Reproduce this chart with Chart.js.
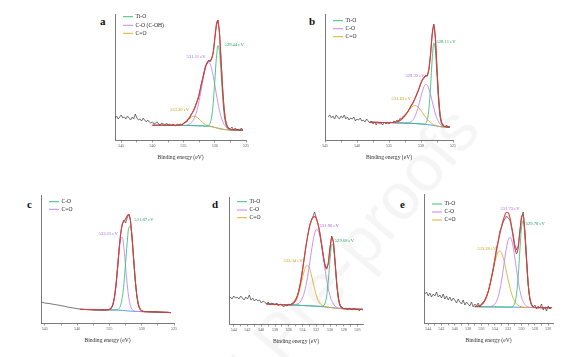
<!DOCTYPE html>
<html><head><meta charset="utf-8">
<script src="https://cdn.jsdelivr.net/npm/chart.js@4.4.0/dist/chart.umd.min.js"></script>
<style>
html,body{margin:0;padding:0;background:#fff;}
body{width:576px;height:357px;position:relative;overflow:hidden;}
canvas{position:absolute;}
.lt{position:absolute;font:bold 11px "Liberation Serif",serif;color:#111;line-height:11px;}
#wm{position:absolute;left:0;top:-33px;height:66px;line-height:66px;white-space:nowrap;font:66px "Liberation Sans",sans-serif;color:rgba(0,0,0,0.04);transform-origin:0 50%;transform:translate(112px,529px) rotate(-50deg);pointer-events:none;}
</style></head><body>
<div class="lt" style="left:100px;top:16px">a</div>
<div class="lt" style="left:309px;top:16px">b</div>
<div class="lt" style="left:27px;top:198.5px">c</div>
<div class="lt" style="left:212px;top:198.5px">d</div>
<div class="lt" style="left:400px;top:198.5px">e</div>
<script>
// ---------- shared ----------
const xTitle = 'Binding energy (eV)';
const ticks5 = [545, 540, 535, 530, 525];
const ticks5Minor = [542.5, 537.5, 532.5, 527.5];
const ticks2 = [544, 542, 540, 538, 536, 534, 532, 530, 528, 526];
const ticks2Minor = [543, 541, 539, 537, 535, 533, 531, 529, 527];

// ---------- panel a ----------
const aRawE = [546,545.75,545.5,545.25,545,544.75,544.5,544.25,544,543.75,543.5,543.25,543,542.75,542.5,542.25,542,541.75,541.5,541.25,541,540.75,540.5,540.25,540,539.75,539.5,539.25,539,538.75,538.5,538.25,538,537.75,537.5,537.25,537,536.75,536.5,536.25,536,535.75,535.5,535.25,535,534.75,534.5,534.25,534,533.75,533.5,533.25,533,532.75,532.5,532.25,532,531.75,531.5,531.25,531,530.75,530.5,530.25,530,529.75,529.5,529.25,529,528.75,528.5,528.25,528,527.75,527.5,527.25,527,526.75,526.5,526.25,526,525.75,525.5];
const aRaw = [22,24,21,23,25,22,23,21,24,22,20,23,21,26,22,20,21,19,22,20,18,20,18,17,18,16,17,18,16,15,17,16,15,17,15,16,14,16,15,14,16,15,16,15,17,18,18,21,22,26,28,31,36,40,45,54,60,66,74,76,80,78,82,87,102,114,120,107,80,52,31,19,14,12,11,13,10,12,10,11,9,12,10];
const aFitE = [540,539,538,537,536.5,536,535.5,535,534.5,534,533.5,533.25,533,532.75,532.5,532.25,532,531.75,531.5,531.25,531,530.75,530.5,530.25,530,529.75,529.5,529.25,529,528.75,528.5,528.25,528,527.5,527,526.5,526,525.5];
const aBg = [14.8,14.8,14.7,14.7,14.6,14.6,14.5,14.5,14.5,14.5,14.4,14.4,14.3,14.3,14.2,14.2,14.2,14.0,13.9,13.9,13.8,13.6,13.3,13.0,12.6,12.2,11.8,11.4,11.0,10.8,10.5,10.4,10.2,10.1,10.0,10.0,9.9,9.8];
const aTiO = [14.8,14.8,14.7,14.7,14.6,14.6,14.5,14.5,14.5,14.5,14.4,14.4,14.3,14.3,14.2,14.2,14.2,14.0,13.9,14.1,14.6,16.8,23.3,37.2,58.9,82.0,94.4,88.3,67.2,43.1,25.1,15.6,11.7,10.1,10.0,10.0,9.9,9.8];
const aCO = [14.8,14.8,14.7,14.7,14.6,14.6,14.5,14.6,14.9,16.1,19.3,22.5,26.7,32.5,39.6,47.9,56.6,64.8,71.7,76.3,77.8,76.0,71.1,63.8,55.0,45.9,37.2,29.6,23.4,18.9,15.4,13.3,11.8,10.5,10.1,10.0,9.9,9.8];
const aCdO = [14.8,14.8,14.7,14.7,14.6,14.75,15.1,16.3,18.7,21.7,23.7,23.9,23.3,22.3,20.8,19.3,17.8,16.4,15.4,14.8,14.3,13.8,13.4,13.0,12.6,12.2,11.8,11.4,11.0,10.8,10.5,10.4,10.2,10.1,10.0,10.0,9.9,9.8];
const aEnv = [14.8,14.8,14.7,14.7,14.6,14.75,15.1,16.4,19.1,23.3,28.6,32.0,35.7,40.5,46.2,53.0,60.2,67.2,73.2,77.2,79.1,79.4,81.2,88.0,101.3,115.7,119.8,106.5,79.6,51.2,30.0,18.5,13.3,10.5,10.1,10.0,9.9,9.8];

// ---------- panel b ----------
const bRawE = [544.5,544.25,544,543.75,543.5,543.25,543,542.75,542.5,542.25,542,541.75,541.5,541.25,541,540.75,540.5,540.25,540,539.75,539.5,539.25,539,538.75,538.5,538.25,538,537.75,537.5,537.25,537,536.75,536.5,536.25,536,535.75,535.5,535.25,535,534.75,534.5,534.25,534,533.75,533.5,533.25,533,532.75,532.5,532.25,532,531.75,531.5,531.25,531,530.75,530.5,530.25,530,529.75,529.5,529.25,529,528.75,528.5,528.25,528,527.75,527.5,527.25,527,526.75,526.5,526.25,526,525.75,525.5];
const bRaw = [23,25,22,24,21,25,23,21,24,22,25,21,23,20,22,21,23,19,21,20,22,19,20,18,21,19,17,19,16,18,15,18,16,17,15,18,16,17,16,18,17,19,18,20,19,22,21,24,25,27,29,32,35,37,41,44,48,52,57,60,62,65,64,72,86,105,116,102,70,43,24,17,15,13,15,12,14];
const bFitE = [538,537,536,535,534.5,534,533.5,533,532.5,532,531.5,531,530.5,530,529.75,529.5,529.25,529,528.75,528.5,528.25,528,527.75,527.5,527.25,527,526.75,526.5,526,525.5];
const bBg = [17.8,17.6,17.5,17.4,17.3,17.2,17.1,17.0,16.9,16.8,16.7,16.5,16.3,16.0,15.9,15.7,15.6,15.5,15.2,15.0,14.8,14.5,14.2,13.8,13.6,13.3,13.2,13.1,13.0,12.8];
const bTiO = [17.8,17.6,17.5,17.4,17.3,17.2,17.1,17.0,16.9,16.8,16.7,16.5,16.3,16.0,15.9,15.9,16.8,20.7,31.8,53.8,81.0,97.0,89.3,63.6,37.8,21.9,15.4,13.5,13.0,12.8];
const bCO = [17.8,17.6,17.5,17.4,17.3,17.2,17.1,17.0,17.0,17.3,18.6,22.7,31.5,43.7,49.5,53.7,55.6,54.6,50.8,45.2,38.6,32.0,26.2,21.4,18.1,15.8,14.5,13.7,13.1,12.8];
const bCdO = [17.8,17.6,17.5,17.45,17.5,17.8,18.7,20.8,24.2,28.5,32.5,34.4,33.3,29.5,27.2,24.7,22.5,20.5,18.7,17.3,16.3,15.4,14.7,14.1,13.75,13.4,13.2,13.1,13.0,12.8];
const bEnv = [17.8,17.6,17.5,17.5,17.5,17.8,18.7,20.8,24.3,29.0,34.4,40.6,48.5,57.2,60.8,62.9,63.7,64.8,70.9,86.3,106.3,115.4,101.8,71.5,42.5,24.4,16.7,14.1,13.1,12.8];

// ---------- panel c ----------
const cRawE = [545.5,545,544.5,544,543.5,543,542.5,542,541.5,541,540.5,540,539.5,539,538.5,538,537.5,537,536.5,536,535.75,535.5,535.25,535,534.75,534.5,534.25,534,533.75,533.5,533.25,533,532.75,532.5,532.25,532,531.75,531.5,531.25,531,530.75,530.5,530.25,530,529.75,529.5,529,528.5,528,527.5,527,526.5,526,525.5];
const cRaw = [20.8,20.0,19.6,19.1,18.5,18.0,17.3,16.8,16.0,15.5,14.9,14.3,13.9,13.6,13.3,13.2,13.0,12.8,12.9,12.7,13.2,13.3,13.4,13.9,15,18,25,37,55,74,90,99,103,100,105,109,103,86,64,43,27,18,14,12.3,11.8,11.5,11.3,11.2,11.0,10.9,10.8,10.6,10.5,10.3];
const cFitE = [539.5,538.5,537.5,536.5,536,535.75,535.5,535.25,535,534.75,534.5,534.25,534,533.75,533.5,533.25,533,532.75,532.5,532.25,532,531.75,531.5,531.25,531,530.75,530.5,530.25,530,529.75,529.5,529,528,527,526,525.5];
const cBg = [13.6,13.5,13.4,13.2,13.2,13.1,13.1,13.1,13.1,13.1,13.05,13.0,13.0,12.9,12.8,12.7,12.6,12.5,12.3,12.2,12.0,11.9,11.8,11.7,11.6,11.55,11.5,11.45,11.4,11.35,11.3,11.2,11.1,10.8,10.6,10.4];
const cCdO = [13.6,13.5,13.4,13.2,13.2,13.1,13.1,13.2,13.55,14.7,17.65,24.4,36.5,53.6,71.8,84.4,85.6,74.7,56.7,38.8,25.3,17.5,13.8,12.3,11.7,11.55,11.5,11.45,11.4,11.35,11.3,11.2,11.1,10.8,10.6,10.4];
const cCO = [13.6,13.5,13.4,13.2,13.2,13.1,13.1,13.1,13.1,13.1,13.05,13.0,13.1,13.4,14.6,18.1,25.8,39.8,59.6,80.7,95.3,96.7,84.1,63.3,42.6,27.0,18.0,13.75,12.1,11.55,11.3,11.2,11.1,10.8,10.6,10.4];
const cEnv = [13.6,13.5,13.4,13.2,13.2,13.1,13.1,13.2,13.55,14.7,17.7,24.4,36.6,54.1,73.6,89.8,98.8,102.0,104.0,107.3,108.6,102.3,86.1,63.9,42.7,27.0,18.0,13.75,12.1,11.55,11.3,11.2,11.1,10.8,10.6,10.4];

// ---------- panel d ----------
const dRawE = [544.5,544.25,544,543.75,543.5,543.25,543,542.75,542.5,542.25,542,541.75,541.5,541.25,541,540.75,540.5,540.25,540,539.75,539.5,539.25,539,538.75,538.5,538.25,538,537.75,537.5,537.25,537,536.75,536.5,536.25,536,535.75,535.5,535.25,535,534.75,534.5,534.25,534,533.75,533.5,533.25,533,532.75,532.5,532.25,532,531.75,531.5,531.25,531,530.75,530.5,530.25,530,529.75,529.5,529.25,529,528.75,528.5,528.25,528,527.75,527.5,527.25,527,526.75,526.5,526.25,526,525.75,525.5,525.25];
const dRaw = [27,25,28,26,27,25,28,26,24,27,25,29,24,26,23,25,23,24,21,23,22,20,22,19,21,20,19,21,18,20,19,17,19,18,20,19,21,22,25,28,35,43,54,66,78,88,97,103,107,112,106,100,92,81,69,60,56,60,76,88,82,60,39,25,18,17,15,16,14,16,15,14,16,14,15,13,15,14];
const dFitE = [539.25,538.5,537.5,536.5,536,535.75,535.5,535.25,535,534.75,534.5,534.25,534,533.75,533.5,533.25,533,532.75,532.5,532.25,532,531.75,531.5,531.25,531,530.75,530.5,530.25,530,529.75,529.5,529.25,529,528.75,528.5,528.25,528,527.75,527.5,527,526.5,526,525.5,525.25];
const dBg = [20.0,19.8,19.5,19.2,19.1,19.05,19.0,18.95,18.9,18.8,18.7,18.6,18.5,18.4,18.3,18.25,18.2,18.1,18.0,17.9,17.8,17.7,17.55,17.4,17.3,17.1,16.9,16.7,16.5,16.3,16.1,15.9,15.7,15.6,15.5,15.4,15.3,15.25,15.2,15.0,14.9,14.8,14.7,14.7];
const dTiO = [20.0,19.8,19.5,19.2,19.1,19.05,19.0,18.95,18.9,18.8,18.7,18.6,18.5,18.4,18.3,18.25,18.2,18.1,18.0,17.9,17.8,17.7,17.55,17.5,18.0,20.2,27.4,43.0,64.3,79.7,77.5,59.4,38.2,24.1,17.8,15.9,15.4,15.25,15.2,15.0,14.9,14.8,14.7,14.7];
const dCO = [20.0,19.8,19.5,19.2,19.1,19.1,19.1,19.15,19.4,19.9,20.9,22.9,26.1,31.2,38.4,47.85,59.0,70.8,81.8,90.1,94.4,93.8,88.35,79.1,67.7,55.6,44.5,35.2,28.1,23.2,19.9,17.8,16.6,16.0,15.7,15.5,15.3,15.25,15.2,15.0,14.9,14.8,14.7,14.7];
const dCdO = [20.0,19.8,19.5,19.2,19.25,19.45,20.0,21.15,23.3,26.9,32.1,38.9,46.3,53.1,57.6,58.65,56.0,50.2,42.8,35.2,28.9,24.1,20.95,19.0,18.0,17.4,17.0,16.7,16.5,16.3,16.1,15.9,15.7,15.6,15.5,15.4,15.3,15.25,15.2,15.0,14.9,14.8,14.7,14.7];
const dEnv = [20.0,19.8,19.5,19.2,19.25,19.5,20.1,21.35,23.8,28.0,34.3,43.2,53.9,65.9,77.7,88.25,96.8,102.9,106.6,107.4,105.5,100.2,91.75,80.8,69.1,58.9,55.1,61.5,75.9,86.6,81.3,61.3,39.1,24.5,18.0,16.0,15.4,15.25,15.2,15.0,14.9,14.8,14.7,14.7];

// ---------- panel e ----------
const eRawE = [544.5,544.25,544,543.75,543.5,543.25,543,542.75,542.5,542.25,542,541.75,541.5,541.25,541,540.75,540.5,540.25,540,539.75,539.5,539.25,539,538.75,538.5,538.25,538,537.75,537.5,537.25,537,536.75,536.5,536.25,536,535.75,535.5,535.25,535,534.75,534.5,534.25,534,533.75,533.5,533.25,533,532.75,532.5,532.25,532,531.75,531.5,531.25,531,530.75,530.5,530.25,530,529.75,529.5,529.25,529,528.75,528.5,528.25,528,527.75,527.5,527.25,527,526.75,526.5,526.25,526,525.75,525.5];
const eRaw = [29,31,27,30,26,29,27,31,26,28,25,29,24,27,23,26,22,25,23,20,24,21,19,23,18,21,19,17,21,16,19,17,20,16,19,21,23,27,31,38,46,53,64,75,82,92,96,101,104,107,105,103,96,88,78,73,77,92,105,111,92,66,38,24,19,16,18,14,17,15,19,13,16,12,17,14,16];
const eFitE = [537,536.5,536,535.75,535.5,535.25,535,534.75,534.5,534.25,534,533.75,533.5,533.25,533,532.75,532.5,532.25,532,531.75,531.5,531.25,531,530.75,530.5,530.25,530,529.75,529.5,529.25,529,528.75,528.5,528.25,528,527.5,527,526.5,526,525.5];
const eBg = [16.3,16.3,16.25,16.25,16.2,16.2,16.2,16.15,16.1,16.1,16.1,16.05,16.05,16.0,16.0,15.95,15.95,15.9,15.9,15.85,15.85,15.8,15.8,15.75,15.75,15.7,15.65,15.6,15.55,15.5,15.5,15.5,15.5,15.45,15.45,15.4,15.4,15.35,15.35,15.3];
const eTiO = [16.3,16.3,16.25,16.25,16.2,16.2,16.2,16.15,16.1,16.1,16.1,16.05,16.05,16.0,16.0,15.95,15.95,15.9,15.9,15.85,16.05,16.9,20.1,28.85,46.85,72.6,95.65,102.2,87.55,61.6,38.2,24.1,18.0,16.05,15.55,15.4,15.4,15.35,15.35,15.3];
const eCO = [16.3,16.3,16.25,16.25,16.2,16.2,16.3,16.4,16.7,17.5,19.0,21.75,26.25,33.0,42.2,53.35,65.15,75.8,83.2,85.85,83.15,75.7,65.0,53.15,41.95,32.7,25.85,21.3,18.45,16.9,16.1,15.75,15.6,15.45,15.45,15.4,15.4,15.35,15.35,15.3];
const eCdO = [16.4,16.9,18.35,19.95,22.5,26.2,31.3,37.65,45.0,53.0,60.6,66.85,70.85,72.0,70.1,65.35,58.65,50.9,43.0,35.65,29.55,24.8,21.4,19.05,17.55,16.7,16.15,15.8,15.65,15.5,15.5,15.5,15.5,15.45,15.45,15.4,15.4,15.35,15.35,15.3];
const eEnv = [16.4,16.9,18.4,19.95,22.5,26.2,31.4,37.9,45.6,54.4,63.5,72.55,81.05,89.0,96.3,102.75,107.85,110.8,110.3,105.65,97.05,85.8,74.9,69.55,74.85,90.6,106.35,108.1,90.55,63.0,38.8,24.35,18.1,16.05,15.55,15.4,15.4,15.35,15.35,15.3];

// ---------- styles ----------
const COL = {raw:'#3a3a3a', env:'#e23a3a', green:'#3ec07e', purple:'#c387f2', orange:'#e0b030', blue:'#3f8fe0'};
const LAB = {green:'#22a060', purple:'#a35ee8', orange:'#cf9a12'};
const SERIF = '"Liberation Serif", "Times New Roman", serif';

function pts(xs, ys){ return xs.map((x,i)=>({x:x, y:ys[i]})); }
function line(label, xs, ys, color, w, smooth){
  return {label, data: pts(xs, ys), borderColor: color, backgroundColor: color, borderWidth: w,
    pointRadius: 0, fill: false, tension: 0, cubicInterpolationMode: smooth ? 'monotone' : 'default'};
}

const annot = {
  id: 'annot',
  afterDatasetsDraw(chart, args, opts){
    const ctx = chart.ctx, xs = chart.scales.x, ys = chart.scales.y, ca = chart.chartArea;
    ctx.save();
    ctx.textBaseline = 'middle';
    ctx.textAlign = 'center';
    ctx.font = '4.6px ' + SERIF;
    (opts.peaks || []).forEach(p => {
      ctx.fillStyle = p.c;
      ctx.fillText(p.t, xs.getPixelForValue(p.e), ys.getPixelForValue(p.h));
    });
    ctx.textAlign = 'left';
    ctx.font = '5.6px ' + SERIF;
    (opts.legend || []).forEach((it, i) => {
      const y = ca.top + opts.legendY[i];
      const x0 = ca.left + opts.legendX;
      ctx.strokeStyle = it.c; ctx.lineWidth = 1;
      ctx.beginPath(); ctx.moveTo(x0, y); ctx.lineTo(x0 + 10, y); ctx.stroke();
      ctx.fillStyle = '#222';
      ctx.fillText(it.t, x0 + 12.5, y);
    });
    ctx.restore();
  }
};

function makePanel(p){
  const padL = 12, padR = 12, padT = 4, axisH = 24;
  const w = p.R - p.L + padL + padR, h = p.B - p.T + padT + axisH;
  const cv = document.createElement('canvas');
  cv.width = w; cv.height = h;
  cv.style.left = (p.L - padL) + 'px'; cv.style.top = (p.T - padT) + 'px';
  cv.style.width = w + 'px'; cv.style.height = h + 'px';
  document.body.appendChild(cv);
  const allTicks = p.major.concat(p.minor).sort((u,v)=>u-v);
  new Chart(cv, {
    type: 'line',
    data: {datasets: p.datasets},
    options: {
      responsive: false, animation: false, devicePixelRatio: 1, events: [],
      layout: {padding: {left: padL, right: padR, top: padT, bottom: 0}},
      plugins: {legend: {display: false}, tooltip: {enabled: false}, title: {display: false},
        annot: {peaks: p.peaks, legend: p.legend, legendX: 8, legendY: p.legendY}},
      scales: {
        x: {type: 'linear', min: p.xmin, max: p.xmax, reverse: true, offset: false,
          afterBuildTicks: s => { s.ticks = allTicks.map(v => ({value: v})); },
          afterFit: s => { s.height = axisH; },
          grid: {display: true, drawOnChartArea: false, drawTicks: true, tickLength: 2.5, color: '#808080', lineWidth: 0.8},
          border: {display: true, color: '#7a7a7a', width: 1},
          ticks: {autoSkip: false, maxRotation: 0, minRotation: 0, padding: 1.5, color: '#555',
            font: {family: SERIF, size: 4},
            callback: v => p.major.includes(v) ? String(v) : ''},
          title: {display: true, text: xTitle, color: '#333', font: {family: SERIF, size: 5.6}, padding: {top: 0, bottom: 3}}
        },
        y: {type: 'linear', min: 0, max: p.ymax, afterFit: s => { s.width = 0; },
          grid: {display: false}, ticks: {display: false},
          border: {display: true, color: '#7a7a7a', width: 1}}
      }
    },
    plugins: [annot]
  });
}

makePanel({L:115, R:246, T:14, B:140, xmin:525, xmax:546, ymax:126, major: ticks5, minor: ticks5Minor,
  datasets: [line('Fit', aFitE, aEnv, COL.env, 1.1, true), line('Raw', aRawE, aRaw, COL.raw, 0.7, false),
    line('Ti-O', aFitE, aTiO, COL.green, 0.9, true), line('C-O (C-OH)', aFitE, aCO, COL.purple, 0.9, true),
    line('C=O', aFitE, aCdO, COL.orange, 0.9, true), line('Background', aFitE, aBg, COL.blue, 0.9, true)],
  legend: [{t:'Ti-O', c:COL.green}, {t:'C-O (C-OH)', c:COL.purple}, {t:'C=O', c:COL.orange}], legendY: [2.7, 11.3, 19.3],
  peaks: [{t:'529.44 eV', e:526.9, h:95.7, c:LAB.green}, {t:'531.11 eV', e:533.0, h:83.3, c:LAB.purple}, {t:'533.30 eV', e:535.66, h:30.7, c:LAB.orange}]});

makePanel({L:325, R:453, T:14, B:140, xmin:525, xmax:545, ymax:126, major: ticks5, minor: ticks5Minor,
  datasets: [line('Fit', bFitE, bEnv, COL.env, 1.1, true), line('Raw', bRawE, bRaw, COL.raw, 0.7, false),
    line('Ti-O', bFitE, bTiO, COL.green, 0.9, true), line('C-O', bFitE, bCO, COL.purple, 0.9, true),
    line('C=O', bFitE, bCdO, COL.orange, 0.9, true), line('Background', bFitE, bBg, COL.blue, 0.9, true)],
  legend: [{t:'Ti-O', c:COL.green}, {t:'C-O', c:COL.purple}, {t:'C=O', c:COL.orange}], legendY: [6.7, 14.7, 22.7],
  peaks: [{t:'528.11 eV', e:526.1, h:98.3, c:LAB.green}, {t:'529.32 eV', e:530.94, h:64, c:LAB.purple}, {t:'531.03 eV', e:533.1, h:41, c:LAB.orange}]});

makePanel({L:41, R:174, T:195, B:323, xmin:525, xmax:545.6, ymax:128, major: ticks5, minor: ticks5Minor,
  datasets: [line('Fit', cFitE, cEnv, COL.env, 1.1, true), line('Raw', cRawE, cRaw, COL.raw, 0.7, false),
    line('C-O', cFitE, cCO, COL.green, 0.9, true), line('C=O', cFitE, cCdO, COL.purple, 0.9, true),
    line('Background', cFitE, cBg, COL.blue, 0.9, true)],
  legend: [{t:'C-O', c:COL.green}, {t:'C=O', c:COL.purple}], legendY: [6.7, 14.3],
  peaks: [{t:'533.25 eV', e:535.2, h:89.3, c:LAB.purple}, {t:'531.87 eV', e:529.66, h:103, c:LAB.green}]});

makePanel({L:229, R:363, T:197, B:324, xmin:525.2, xmax:544.7, ymax:127, major: ticks2, minor: ticks2Minor,
  datasets: [line('Fit', dFitE, dEnv, COL.env, 1.1, true), line('Raw', dRawE, dRaw, COL.raw, 0.7, false),
    line('Ti-O', dFitE, dTiO, COL.green, 0.9, true), line('C-O', dFitE, dCO, COL.purple, 0.9, true),
    line('C=O', dFitE, dCdO, COL.orange, 0.9, true), line('Background', dFitE, dBg, COL.blue, 0.9, true)],
  legend: [{t:'Ti-O', c:COL.green}, {t:'C-O', c:COL.purple}, {t:'C=O', c:COL.orange}], legendY: [4.7, 13, 20.7],
  peaks: [{t:'533.34 eV', e:535.39, h:63, c:LAB.orange}, {t:'531.96 eV', e:530.1, h:98, c:LAB.purple}, {t:'529.68 eV', e:527.91, h:83, c:LAB.green}]});

makePanel({L:424, R:553, T:194, B:323, xmin:525.28, xmax:544.63, ymax:129, major: ticks2, minor: ticks2Minor,
  datasets: [line('Fit', eFitE, eEnv, COL.env, 1.1, true), line('Raw', eRawE, eRaw, COL.raw, 0.7, false),
    line('Ti-O', eFitE, eTiO, COL.green, 0.9, true), line('C-O', eFitE, eCO, COL.purple, 0.9, true),
    line('C=O', eFitE, eCdO, COL.orange, 0.9, true), line('Background', eFitE, eBg, COL.blue, 0.9, true)],
  legend: [{t:'Ti-O', c:COL.green}, {t:'C-O', c:COL.purple}, {t:'C=O', c:COL.orange}], legendY: [10, 18, 26],
  peaks: [{t:'533.28 eV', e:535.22, h:74, c:LAB.orange}, {t:'531.73 eV', e:531.72, h:114.7, c:LAB.purple}, {t:'529.78 eV', e:527.94, h:99.7, c:LAB.green}]});
</script>
<div id="wm">Journal Pre-proofs</div>
</body></html>
